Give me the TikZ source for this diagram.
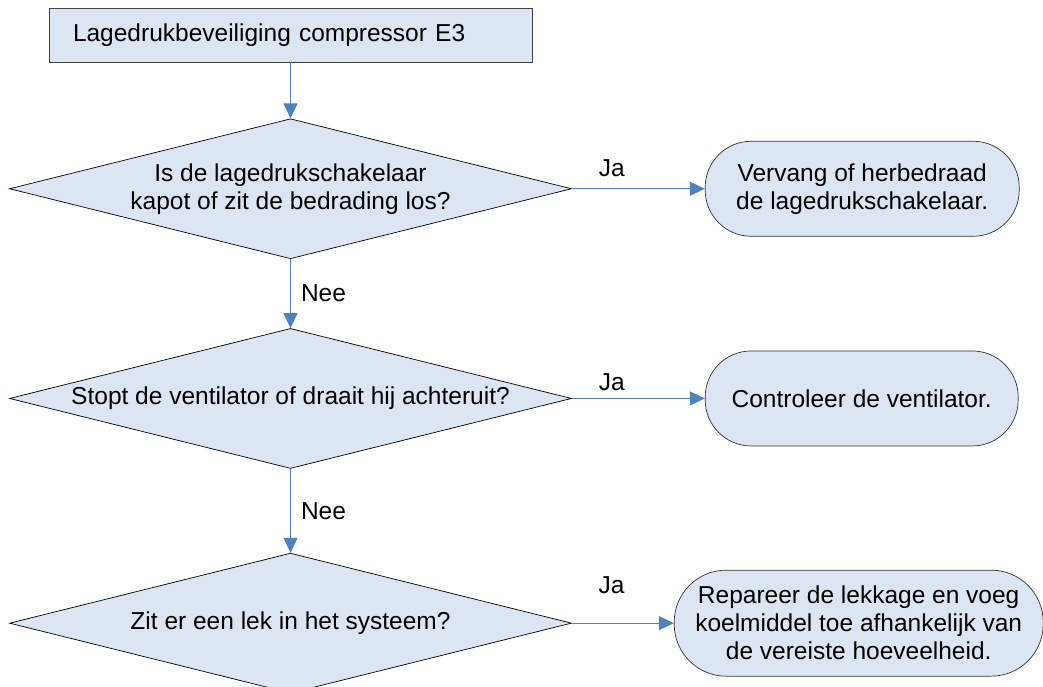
\documentclass[tikz,border=0pt]{standalone}
\usepackage{fontspec}
\setmainfont{Liberation Sans}
\usetikzlibrary{shapes.geometric,positioning,arrows.meta}
\definecolor{boxfill}{RGB}{220,230,242}
\definecolor{flowblue}{RGB}{79,129,189}
\begin{document}
\begin{tikzpicture}[x=1pt,y=-1pt,
	every node/.style={font=\fontsize{24.5}{28}\selectfont},
	startbox/.style={draw=black!75,line width=0.8pt,fill=boxfill,text width=435pt,inner xsep=24pt,minimum height=54pt,align=left},
	question/.style={diamond,draw=black,line width=0.7pt,fill=boxfill,minimum width=562pt,minimum height=140pt,inner sep=0pt,shape aspect=4,align=center},
	answer/.style={draw=black!80,line width=0.7pt,fill=boxfill,rounded corners=46pt,minimum height=95pt,align=center},
	flow/.style={color=flowblue,line width=1.1pt,-{Triangle[length=15pt,width=14pt]}},
	jalabel/.style={above=#1,pos=0.3,inner sep=0pt,text=black},
	neelabel/.style={midway,right=10pt,inner sep=0pt,text=black}]
			\useasboundingbox (0,0) rectangle (1043,686);
			\node[startbox] (start) at (290.5,35) {Lagedrukbeveiliging compressor E3};
			\node[question,below=56pt of start] (q1) {Is de lagedrukschakelaar\\kapot of zit de bedrading los?};
			\node[question,below=69pt of q1] (q2) {Stopt de ventilator of draait hij achteruit?};
			\node[question,below=84pt of q2] (q3) {Zit er een lek in het systeem?};
			\node[answer,minimum width=314pt,right=133pt of q1] (fix1) {Vervang of herbedraad\\de lagedrukschakelaar.};
			\node[answer,minimum width=313pt,right=133pt of q2] (fix2) {Controleer de ventilator.};
			\node[answer,minimum width=369pt,minimum height=106pt,rounded corners=52pt,right=102pt of q3] (fix3) {Repareer de lekkage en voeg\\koelmiddel toe afhankelijk van\\de vereiste hoeveelheid.};
			
			\path[flow] (start) edge (q1)
			(q1) edge node[jalabel=11pt] {Ja} (fix1)
			(q1) edge node[neelabel] {Nee} (q2)
			(q2) edge node[jalabel=7pt] {Ja} (fix2)
			(q2) edge node[neelabel] {Nee} (q3)
			(q3) edge node[jalabel=29pt,pos=0.39] {Ja} (fix3);
		\end{tikzpicture}
\end{document}
